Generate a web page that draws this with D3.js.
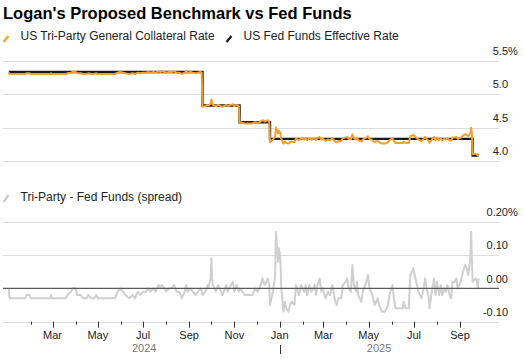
<!DOCTYPE html>
<html>
<head>
<meta charset="utf-8">
<script src="https://cdn.jsdelivr.net/npm/d3@7"></script>
<style>
  html, body { margin: 0; padding: 0; background: #fff; }
  svg { display: block; font-family: "Liberation Sans", Arial, sans-serif; }
</style>
</head>
<body>
<svg id="chart" width="524" height="361"></svg>
<script>
// ---------------- DATA ----------------
const title = "Logan's Proposed Benchmark vs Fed Funds";
const seriesNames = ["US Tri-Party General Collateral Rate", "US Fed Funds Effective Rate"];
const spreadName = "Tri-Party - Fed Funds (spread)";

// Fed funds effective rate: level changes (date the new level takes effect)
const effrDates  = ["2024-01-02", "2024-09-19", "2024-11-08", "2024-12-19", "2025-09-18"];
const effrLevels = [5.33, 4.83, 4.58, 4.33, 4.08];
const lastDate = "2025-09-26";

// Tri-party GC minus fed funds effective, in basis points
const spreadDates = [
  "2024-01-02","2024-01-03","2024-01-10","2024-01-17","2024-01-24","2024-01-26","2024-01-30","2024-02-01",
  "2024-02-08","2024-02-15","2024-02-22","2024-02-27","2024-02-28","2024-02-29","2024-03-07","2024-03-14",
  "2024-03-19","2024-03-21","2024-03-26","2024-03-28","2024-04-01","2024-04-03","2024-04-08","2024-04-11",
  "2024-04-16","2024-04-18","2024-04-22","2024-04-26","2024-04-29","2024-05-01","2024-05-08","2024-05-15",
  "2024-05-22","2024-05-24","2024-05-28","2024-05-31",
  "2024-06-04","2024-06-07","2024-06-12","2024-06-17","2024-06-20","2024-06-24","2024-06-27","2024-07-01",
  "2024-07-05","2024-07-08","2024-07-11","2024-07-15","2024-07-18","2024-07-22","2024-07-24","2024-07-26",
  "2024-07-30","2024-08-01","2024-08-05","2024-08-08","2024-08-12","2024-08-15","2024-08-19","2024-08-22",
  "2024-08-26","2024-08-28","2024-08-30","2024-09-03","2024-09-06","2024-09-10","2024-09-13","2024-09-16",
  "2024-09-18","2024-09-19","2024-09-23","2024-09-26","2024-09-27","2024-09-30","2024-10-01","2024-10-02",
  "2024-10-03","2024-10-07","2024-10-10","2024-10-14","2024-10-16","2024-10-21","2024-10-23","2024-10-25",
  "2024-10-30","2024-11-01","2024-11-04","2024-11-07","2024-11-08","2024-11-12","2024-11-15","2024-11-19",
  "2024-11-22","2024-11-25","2024-11-29","2024-12-02","2024-12-05","2024-12-09","2024-12-12","2024-12-16",
  "2024-12-18","2024-12-19","2024-12-23","2024-12-26","2024-12-27","2024-12-30","2024-12-31","2025-01-02",
  "2025-01-03","2025-01-06","2025-01-08","2025-01-10","2025-01-13","2025-01-15","2025-01-17","2025-01-21",
  "2025-01-23","2025-01-27","2025-01-30","2025-02-03","2025-02-05","2025-02-07","2025-02-10","2025-02-13",
  "2025-02-17","2025-02-19","2025-02-21","2025-02-24","2025-02-26","2025-02-28","2025-03-04","2025-03-07",
  "2025-03-10","2025-03-13","2025-03-17","2025-03-19","2025-03-21","2025-03-25","2025-03-27","2025-03-31",
  "2025-04-02","2025-04-04","2025-04-07","2025-04-09","2025-04-11","2025-04-14","2025-04-15","2025-04-17",
  "2025-04-21","2025-04-23","2025-04-28","2025-04-30","2025-05-02","2025-05-06","2025-05-09","2025-05-13",
  "2025-05-15","2025-05-19","2025-05-23","2025-05-27","2025-05-29","2025-06-02","2025-06-04","2025-06-06",
  "2025-06-10","2025-06-13","2025-06-16","2025-06-17","2025-06-20","2025-06-24","2025-06-26","2025-06-30",
  "2025-07-01","2025-07-03","2025-07-07","2025-07-09","2025-07-11","2025-07-14","2025-07-16","2025-07-18",
  "2025-07-21","2025-07-22","2025-07-25","2025-07-28","2025-07-30","2025-08-01","2025-08-04","2025-08-06",
  "2025-08-08","2025-08-11","2025-08-13","2025-08-15","2025-08-18","2025-08-20","2025-08-22","2025-08-25",
  "2025-08-27","2025-08-29","2025-09-02","2025-09-03","2025-09-05","2025-09-08","2025-09-10","2025-09-12",
  "2025-09-15","2025-09-16","2025-09-17","2025-09-18","2025-09-22","2025-09-24","2025-09-25","2025-09-26"
];
const spreadBp = [
   0,-3,-3,-3,-3,-2,-2,-3,
  -3,-3,-3,-3,-2,-3,-3,-3,
  -3,-2,-1, 0, 0,-2,-2,-3,
  -3,-2,-3,-3,-2,-3,-3,-3,
  -3,-3,-1, 0,
  -1,-2,-3,-2,-3,-1,-2,-1,
  -1, 0,-1, 0,-1, 1, 0, 1,
   0,-1, 0, 0, 1,-1,-1,-3,
  -1, 1,-1, 0,-1,-2,-1, 0,
  -1,-2,-1, 1, 0, 3, 9, 3,
   1,-1, 1,-1,-2, 1,-1, 0,
   2,-1, 1,-1, 0,-1,-2,-2,
  -2,-2, 0,-1, 0, 3, 1, 3,
   1,-5,-1, 4,17, 8,12, 9,
   1,-7,-4,-6,-7,-5,-4,-5,
   1,-2, 1,-1, 1,-2, 1,-1,
   1,-2, 1, 3,-1, 0,-3,-1,
  -2, 1,-4,-5,-3,-3, 1, 2,
   3, 0,-1, 7, 1,-1, 2,-2,
  -4,-1, 2, 4, 0,-2,-5,-3,
  -5,-7,-7,-5,-2, 1,-3,-6,
  -6,-6,-6,-4,-6,-6, 4, 6,
   5, 3,-1,-2,-3, 0, 3, 0,
  -3,-6,-1, 3,-2, 2,-2, 1,
  -2, 0,-1, 1,-2,-3, 2, 2,
   3, 0, 2, 3, 5, 7, 6, 4,
   9,17, 9, 2, 3, 2, 0, 3
];

const topTicks = [4.0, 4.5, 5.0, 5.5];
const topTickLabels = ["4.0", "4.5", "5.0", "5.5"];
const bottomTicks = [-0.10, 0.00, 0.10, 0.20];
const bottomTickLabels = ["-0.10", "0.00", "0.10", "0.20"];

// ---------------- CHART ----------------
const parse = d3.timeParse("%Y-%m-%d");
const effr = effrDates.map((d, i) => ({ date: parse(d), v: effrLevels[i] }));
const endD = parse(lastDate);
const effrAt = dt => { let v = effr[0].v; for (const e of effr) if (e.date <= dt) v = e.v; return v; };
const spread = spreadDates.map((d, i) => ({ date: parse(d), v: spreadBp[i] / 100 }));
const tgcr = spread.map(p => ({ date: p.date, v: effrAt(p.date) + p.v }));
const effrLine = effr.concat([{ date: endD, v: effr[effr.length - 1].v }]);

const svg = d3.select("#chart");
const gridX0 = 3, gridX1 = 499, labelX = 508;

const x = d3.scaleTime()
  .domain([new Date(2024, 1, 1), new Date(2025, 8, 1)])
  .range([31, 460]);
const yTop = d3.scaleLinear().domain([4.0, 5.5]).range([161, 60.6]);
const yBot = d3.scaleLinear().domain([-0.10, 0.20]).range([321.7, 221.7]);

// Title
svg.append("text").attr("x", 3).attr("y", 19)
  .attr("font-size", 16.5).attr("font-weight", "bold").attr("fill", "#000")
  .text(title);

// Legend (top)
const legendColors = ["#f5a02e", "#1a1a1a"];
const legendX = [3.5, 226.5];
seriesNames.forEach((name, i) => {
  svg.append("line").attr("x1", legendX[i]).attr("y1", 42).attr("x2", legendX[i] + 5).attr("y2", 36)
    .attr("stroke", legendColors[i]).attr("stroke-width", 2.2);
  svg.append("text").attr("x", legendX[i] + 17).attr("y", 40.3)
    .attr("font-size", 12).attr("fill", "#222").text(name);
});

// Top grid
topTicks.forEach((t, i) => {
  const yy = Math.round(yTop(t)) + 0.5;
  svg.append("line").attr("x1", gridX0).attr("x2", gridX1).attr("y1", yy).attr("y2", yy)
    .attr("stroke", "#dcdcdc").attr("stroke-width", 1);
  svg.append("text").attr("x", labelX).attr("y", yTop(t) - 5.7)
    .attr("text-anchor", "end").attr("font-size", 11).attr("fill", "#222").text(topTickLabels[i]);
  if (i === topTicks.length - 1)
    svg.append("text").attr("x", labelX).attr("y", yTop(t) - 5.7)
      .attr("font-size", 11).attr("fill", "#222").text("%");
});

const lineTop = d3.line().x(d => x(d.date)).y(d => yTop(d.v));
svg.append("path").datum(effrLine)
  .attr("d", lineTop.curve(d3.curveStepAfter)(effrLine))
  .attr("fill", "none").attr("stroke", "#1a1a1a").attr("stroke-width", 2.4);
svg.append("path")
  .attr("d", d3.line().x(d => x(d.date)).y(d => yTop(d.v))(tgcr))
  .attr("fill", "none").attr("stroke", "#f5a02e").attr("stroke-width", 2).attr("stroke-linejoin", "round");

// Spread legend
svg.append("line").attr("x1", 3.5).attr("y1", 202).attr("x2", 8.5).attr("y2", 195)
  .attr("stroke", "#cccccc").attr("stroke-width", 2.2);
svg.append("text").attr("x", 20.5).attr("y", 200.6)
  .attr("font-size", 12).attr("fill", "#222").text(spreadName);

// Bottom grid
bottomTicks.forEach((t, i) => {
  const yy = Math.round(yBot(t)) + 0.5;
  if (t !== 0)
    svg.append("line").attr("x1", gridX0).attr("x2", gridX1).attr("y1", yy).attr("y2", yy)
      .attr("stroke", "#dcdcdc").attr("stroke-width", 1);
  svg.append("text").attr("x", labelX).attr("y", yBot(t) - 5.7)
    .attr("text-anchor", "end").attr("font-size", 11).attr("fill", "#222").text(bottomTickLabels[i]);
  if (i === bottomTicks.length - 1)
    svg.append("text").attr("x", labelX).attr("y", yBot(t) - 5.7)
      .attr("font-size", 11).attr("fill", "#222").text("%");
});

svg.append("path")
  .attr("d", d3.line().x(d => x(d.date)).y(d => yBot(d.v))(spread))
  .attr("fill", "none").attr("stroke", "#cfcfcf").attr("stroke-width", 2).attr("stroke-linejoin", "round");

// Zero line
svg.append("line").attr("x1", gridX0).attr("x2", gridX1)
  .attr("y1", yBot(0)).attr("y2", yBot(0))
  .attr("stroke", "#5a5a5a").attr("stroke-width", 1.3);

// X axis ticks and labels
const axisY = yBot(-0.10);
const months = d3.timeMonth.range(new Date(2024, 1, 1), new Date(2025, 9, 1));
const fmtMonth = d3.timeFormat("%b");
months.forEach(m => {
  const xx = Math.round(x(m)) + 0.5;
  const labeled = m.getMonth() % 2 === 0;
  svg.append("line").attr("x1", xx).attr("x2", xx).attr("y1", axisY).attr("y2", axisY + (labeled ? 6 : 3))
    .attr("stroke", "#333").attr("stroke-width", 1);
  if (labeled)
    svg.append("text").attr("x", x(m)).attr("y", 339).attr("text-anchor", "middle")
      .attr("font-size", 11).attr("fill", "#222").text(fmtMonth(m));
});

// Year labels
const firstD = spread[0].date;
[2024, 2025].forEach(yr => {
  const s = Math.max(x(new Date(yr, 0, 1)), x(firstD));
  const e = Math.min(x(new Date(yr + 1, 0, 1)), x(endD));
  svg.append("text").attr("x", (s + e) / 2).attr("y", 351.5).attr("text-anchor", "middle")
    .attr("font-size", 11).attr("fill", "#777").text(String(yr));
  if (yr > 2024) {
    const xx = Math.round(x(new Date(yr, 0, 1))) + 0.5;
    svg.append("line").attr("x1", xx).attr("x2", xx).attr("y1", 345).attr("y2", 354)
      .attr("stroke", "#333").attr("stroke-width", 1);
  }
});
</script>
</body>
</html>
